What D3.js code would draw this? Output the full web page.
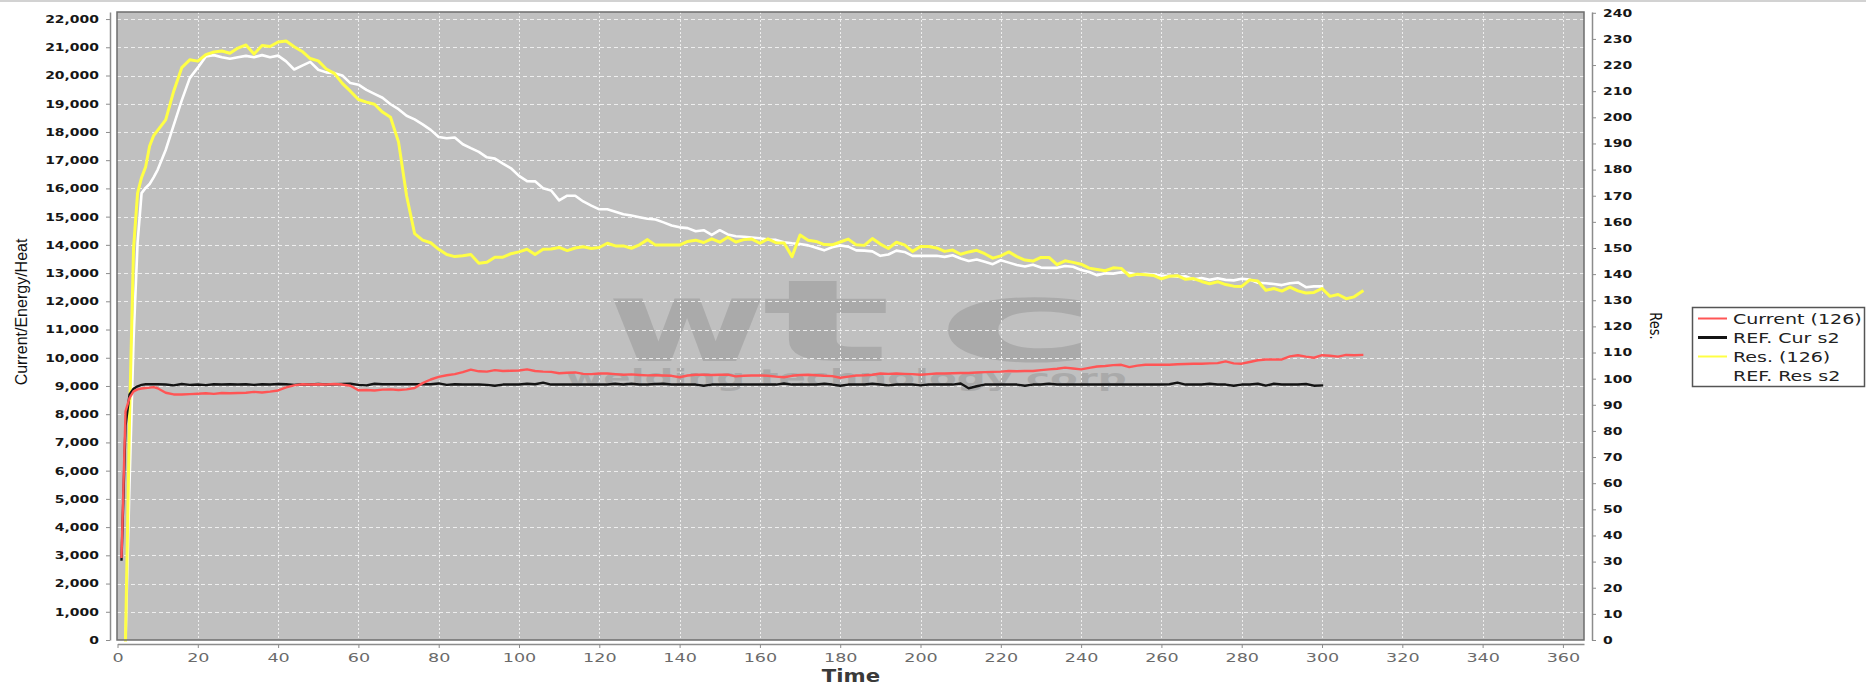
<!DOCTYPE html>
<html>
<head>
<meta charset="utf-8">
<script src="https://cdn.jsdelivr.net/npm/d3@7"></script>
<style>
  html, body { margin: 0; padding: 0; background: #ffffff; }
  svg { display: block; }
</style>
</head>
<body>
<svg id="chart" width="1866" height="685"></svg>
<script>
// Sample times (ms): 1 ms steps during the rise, 2 ms steps afterwards
const time = [1, 2, 3, 4, 5, 6, 7, 8, 9, 10].concat(d3.range(12, 311, 2));

// Weld current of part 126 (left axis)
const currentVals = [
  2950, 8100, 8580, 8810, 8880, 8910, 8930, 8940, 8960, 8920,
  8760, 8700, 8700, 8710, 8725, 8740, 8720, 8750, 8740, 8750,
  8760, 8790, 8770, 8800, 8840, 8950, 9020, 9060, 9050, 9060,
  9050, 9070, 9050, 9010, 8850, 8860, 8840, 8870, 8880, 8860,
  8880, 8930, 9100, 9230, 9320, 9380, 9420, 9490, 9580, 9520,
  9510, 9560, 9530, 9540, 9550, 9590, 9530, 9510, 9500, 9450,
  9470, 9480, 9430, 9420, 9440, 9440, 9420, 9400, 9410, 9390,
  9375, 9380, 9370, 9360, 9310, 9370, 9400, 9400, 9390, 9400,
  9400, 9340, 9360, 9370, 9375, 9360, 9330, 9310, 9360, 9390,
  9400, 9380, 9360, 9350, 9290, 9330, 9370, 9380, 9400, 9440,
  9430, 9440, 9430, 9420, 9400, 9420, 9440, 9440, 9450, 9460,
  9460, 9480, 9490, 9500, 9510, 9530, 9520, 9530, 9530, 9560,
  9590, 9610, 9650, 9620, 9590, 9640, 9690, 9710, 9740, 9750,
  9670, 9720, 9750, 9750, 9750, 9750, 9770, 9780, 9790, 9790,
  9800, 9810, 9870, 9800, 9790, 9850, 9910, 9940, 9940, 9940,
  10050, 10090, 10040, 10000, 10090, 10070, 10040, 10100, 10090, 10100
];

// Reference current curve (left axis)
const refCurVals = [
  2850, 7600, 8700, 8900, 8990, 9040, 9060, 9060, 9060, 9060,
  9050, 9020, 9070, 9040, 9050, 9030, 9060, 9050, 9060, 9050,
  9060, 9040, 9060, 9050, 9070, 9060, 9040, 9060, 9050, 9070,
  9050, 9060, 9070, 9080, 9040, 9020, 9080, 9060, 9060, 9060,
  9060, 9060, 9060, 9060, 9090, 9040, 9060, 9050, 9050, 9050,
  9040, 9010, 9050, 9050, 9050, 9080, 9060, 9120, 9050, 9050,
  9050, 9050, 9050, 9050, 9050, 9050, 9080, 9050, 9080, 9050,
  9050, 9070, 9080, 9050, 9050, 9050, 9050, 9010, 9050, 9050,
  9050, 9050, 9050, 9050, 9050, 9050, 9050, 9090, 9050, 9050,
  9050, 9050, 9080, 9050, 9010, 9050, 9050, 9050, 9080, 9050,
  9020, 9050, 9050, 9050, 9020, 9050, 9050, 9050, 9050, 9090,
  8920, 8990, 9050, 9050, 9050, 9050, 9050, 9010, 9050, 9050,
  9080, 9050, 9050, 9050, 9050, 9050, 9050, 9050, 9050, 9050,
  9050, 9050, 9050, 9050, 9050, 9060, 9120, 9050, 9050, 9050,
  9080, 9050, 9050, 9010, 9050, 9050, 9080, 9010, 9080, 9050,
  9050, 9050, 9070, 9010, 9020, null, null, null, null, null
];

// Resistance of part 126 (right axis)
const resVals = [
  null, 0, 85, 150, 171, 177, 181, 189, 193, 195,
  199, 210, 219, 222, 221.5, 224, 225, 225.4, 224.5, 226.5,
  227.7, 224.2, 227.5, 227.1, 228.8, 229.2, 227, 225.2, 222.5, 221.6,
  218.5, 216.8, 213, 210, 206.8, 205.8, 205, 202, 200, 190.5,
  170, 155.5, 153, 152, 149.5, 147.5, 146.7, 147, 147.5, 144.2,
  144.5, 146.5, 146.5, 147.8, 148.5, 149.5, 147.5, 149.5, 149.6, 150.2,
  149, 150, 150.5, 149.8, 150.2, 151.8, 150.8, 150.8, 149.9, 151.2,
  153.2, 151.1, 151.1, 151.1, 151.1, 152.5, 153, 152.1, 153.5, 152.2,
  154.1, 152.3, 153.2, 153.4, 151.8, 153.5, 152, 151.9, 146.7, 155,
  153, 152.5, 151.3, 151.2, 152.3, 153.4, 151.2, 151, 153.6, 151.5,
  149.8, 152.2, 151.2, 148.7, 150.6, 150.6, 150, 148.7, 149.2, 147.6,
  148.5, 149.1, 147.8, 146.1, 147, 148.5, 146.7, 145.4, 145, 146.4,
  146.4, 143.6, 145.1, 144.5, 143.8, 142.3, 141.8, 141.3, 142.4, 142.2,
  139.3, 140, 139.8, 139.5, 138.2, 139.2, 139.4, 138, 138.3, 137.2,
  136.3, 137.1, 136, 135.4, 135.3, 137.8, 137.4, 133.8, 134.5, 133.5,
  135, 133.6, 132.8, 133, 134.5, 131.5, 132.2, 130.6, 131.3, 133.4
];

// Reference resistance curve (right axis)
const refResVals = [
  null, 0, 60, 115, 152, 171, 173, 174.5, 177, 179.9,
  187.5, 197, 206.5, 215, 219, 223.3, 223.8, 223, 222.4, 223,
  223.5, 223, 223.8, 223, 223.6, 221.4, 218.3, 219.8, 221.2, 218.2,
  217.2, 216.9, 216, 213.1, 212.5, 210.5, 209, 207.5, 205, 203.1,
  200.6, 199.2, 197.3, 195.2, 192.5, 192, 192.3, 189.7, 188.2, 186.8,
  184.7, 184.2, 182.3, 180.5, 177.6, 175.6, 175.5, 172.9, 172, 168.2,
  170, 170, 167.8, 166.2, 164.8, 164.8, 163.9, 162.9, 162.4, 161.8,
  161.2, 160.9, 159.8, 158.6, 157.9, 157.6, 156.4, 156.8, 155, 156.8,
  155.2, 154.5, 154.3, 154, 153.7, 153.2, 153.1, 152.2, 151.8, 151.5,
  151, 150.1, 149.1, 150.3, 151, 150.5, 149.1, 149, 148.7, 147,
  147.5, 149, 148.5, 147, 147, 147, 147, 146.6, 147.2, 146,
  145, 145.6, 144.7, 143.8, 145.3, 144.4, 143.5, 142.9, 143.6, 142.5,
  142.4, 142.4, 143.1, 142.8, 141.6, 140.8, 139.6, 140.3, 140.2, 140.7,
  140.4, 139.8, 140.1, 139.8, 139.5, 139.4, 139, 139.2, 138, 138.5,
  137.8, 138.4, 137.8, 137.6, 138.2, 137.9, 136.7, 136.5, 136.2, 135.8,
  136.5, 136.8, 135, 135.3, 135.3, null, null, null, null, null
];

const seriesNames = ["Current (126)", "REF. Cur s2", "Res. (126)", "REF. Res s2"];
const seriesColors = ["#ff5555", "#141414", "#ffff44", "#ffffff"];
const timeTicks = d3.range(0, 361, 20);
const leftTicks = d3.range(0, 22001, 1000);
const rightTicks = d3.range(0, 241, 10);

const svg = d3.select("#chart");
const plot = { left: 117, right: 1584, top: 12, bottom: 640 };

const x = d3.scaleLinear().domain([0, 365.25]).range([117.5, plot.right]);
const yLeft = d3.scaleLinear().domain([0, 22250]).range([plot.bottom, plot.top]);
const yRight = d3.scaleLinear().domain([0, 240.3]).range([plot.bottom, plot.top]);

// thin strip along the top edge of the window
svg.append("rect").attr("x", 0).attr("y", 0).attr("width", 1866).attr("height", 2).attr("fill", "#d2d2d2");

// plot background
svg.append("rect")
  .attr("x", plot.left).attr("y", plot.top)
  .attr("width", plot.right - plot.left).attr("height", plot.bottom - plot.top)
  .attr("fill", "#c0c0c0");

// company watermark behind the data; each glyph's ink is stretched to a fixed span
const wm = svg.append("g").attr("fill", "#aaaaaa");
const measureCtx = document.createElement("canvas").getContext("2d");
function stretchedText(str, inkLeft, inkRight, baseline, font) {
  measureCtx.font = font;
  const m = measureCtx.measureText(str);
  let l = -m.actualBoundingBoxLeft, r = m.actualBoundingBoxRight;
  if (!(r - l > 0)) { l = 0; r = m.width || 1; }
  const s = (inkRight - inkLeft) / (r - l);
  wm.append("text")
    .style("font", font)
    .attr("transform", `translate(${inkLeft - s * l},${baseline}) scale(${s},1)`)
    .text(str);
}
stretchedText("w", 613, 762, 361, "bold 114px 'DejaVu Sans'");
stretchedText("t", 764, 886, 361, "bold 114px 'DejaVu Sans'");
stretchedText("c", 946, 1081, 361, "bold 114px 'DejaVu Sans'");
stretchedText("welding technology corp", 566, 1126, 386, "bold 23px 'DejaVu Sans'");

// grid lines
const grid = svg.append("g");
grid.selectAll("line.h").data(leftTicks.slice(1)).join("line")
  .attr("class", "h")
  .attr("x1", plot.left).attr("x2", plot.right)
  .attr("y1", d => Math.round(yLeft(d)) + 0.5).attr("y2", d => Math.round(yLeft(d)) + 0.5)
  .attr("stroke", "#eeeeee").attr("stroke-width", 1).attr("stroke-dasharray", "4,3");
grid.selectAll("line.v").data(timeTicks.slice(1)).join("line")
  .attr("class", "v")
  .attr("y1", plot.top).attr("y2", plot.bottom)
  .attr("x1", d => Math.round(x(d)) + 0.5).attr("x2", d => Math.round(x(d)) + 0.5)
  .attr("stroke", "#eeeeee").attr("stroke-width", 1).attr("stroke-dasharray", "2,2");

// series, drawn back to front
const series = [
  { values: refResVals, scale: yRight, color: seriesColors[3], width: 2.6 },
  { values: resVals, scale: yRight, color: seriesColors[2], width: 3 },
  { values: refCurVals, scale: yLeft, color: seriesColors[1], width: 2.4 },
  { values: currentVals, scale: yLeft, color: seriesColors[0], width: 2.4 }
];
const lines = svg.append("g");
series.forEach(s => {
  const pts = time.map((t, i) => ({ t, v: s.values[i] }));
  const line = d3.line()
    .defined(d => d.v !== null)
    .x(d => x(d.t))
    .y(d => s.scale(d.v));
  lines.append("path")
    .datum(pts)
    .attr("d", line)
    .attr("fill", "none")
    .attr("stroke", s.color)
    .attr("stroke-width", s.width)
    .attr("stroke-linejoin", "round")
    .attr("stroke-linecap", "square");
});

// plot outline
svg.append("rect")
  .attr("x", plot.left).attr("y", plot.top)
  .attr("width", plot.right - plot.left).attr("height", plot.bottom - plot.top)
  .attr("fill", "none").attr("stroke", "#6e6e6e").attr("stroke-width", 1.5);

const axisColor = "#8c8c8c";

// left axis
const gL = svg.append("g").attr("transform", "translate(110,0)")
  .call(d3.axisLeft(yLeft).tickValues(leftTicks).tickFormat(d3.format(",")).tickSize(4).tickSizeOuter(0));
gL.selectAll("path, line").attr("stroke", axisColor);
gL.select(".domain").attr("stroke-width", 1.5);
gL.selectAll("text")
  .attr("x", null)
  .attr("transform", "translate(-11,0) scale(1.33,1)")
  .attr("fill", "#161616")
  .style("font", "bold 10.5px 'DejaVu Sans'");

// right axis
const gR = svg.append("g").attr("transform", "translate(1592,0)")
  .call(d3.axisRight(yRight).tickValues(rightTicks).tickSize(4).tickSizeOuter(0));
gR.selectAll("path, line").attr("stroke", axisColor);
gR.select(".domain").attr("stroke-width", 1.5);
gR.selectAll("text")
  .attr("x", null)
  .attr("transform", "translate(11,0) scale(1.33,1)")
  .attr("fill", "#161616")
  .style("font", "bold 10.5px 'DejaVu Sans'");

// bottom axis
const gB = svg.append("g").attr("transform", "translate(0,644)")
  .call(d3.axisBottom(x).tickValues(timeTicks).tickSize(4).tickSizeOuter(0));
gB.selectAll("path, line").attr("stroke", axisColor);
gB.select(".domain").attr("stroke-width", 1.5);
gB.selectAll("text")
  .attr("y", null).attr("dy", null)
  .attr("transform", "translate(0,18) scale(1.35,1)")
  .attr("fill", "#6a6a6a")
  .style("font", "13px 'DejaVu Sans'");

// axis titles
svg.append("text")
  .attr("transform", "translate(27,312) rotate(-90)")
  .attr("text-anchor", "middle")
  .attr("fill", "#111")
  .style("font", "16px 'Liberation Sans'")
  .text("Current/Energy/Heat");

svg.append("text")
  .attr("transform", "translate(851,682) scale(1.25,1)")
  .attr("text-anchor", "middle")
  .attr("fill", "#3a3a3a")
  .style("font", "bold 17px 'DejaVu Sans'")
  .text("Time");

svg.append("text")
  .attr("transform", "translate(1650,326) rotate(90) scale(1,1.25)")
  .attr("text-anchor", "middle")
  .attr("fill", "#111")
  .style("font", "13px 'DejaVu Sans'")
  .text("Res.");

// legend
const legend = svg.append("g");
legend.append("rect")
  .attr("x", 1692.5).attr("y", 307.5).attr("width", 172).attr("height", 79)
  .attr("fill", "#ffffff").attr("stroke", "#555555").attr("stroke-width", 1.5);
const legendWidths = [2, 3, 2, 2];
const items = legend.selectAll("g.item").data(seriesNames).join("g")
  .attr("class", "item")
  .attr("transform", (d, i) => `translate(0,${318.5 + i * 19})`);
items.append("line")
  .attr("x1", 1698).attr("x2", 1727)
  .attr("stroke", (d, i) => seriesColors[i])
  .attr("stroke-width", (d, i) => legendWidths[i]);
items.append("text")
  .attr("transform", "translate(1733,5.5) scale(1.41,1)")
  .attr("fill", "#222")
  .style("font", "13.5px 'DejaVu Sans'")
  .text(d => d);
</script>
</body>
</html>
